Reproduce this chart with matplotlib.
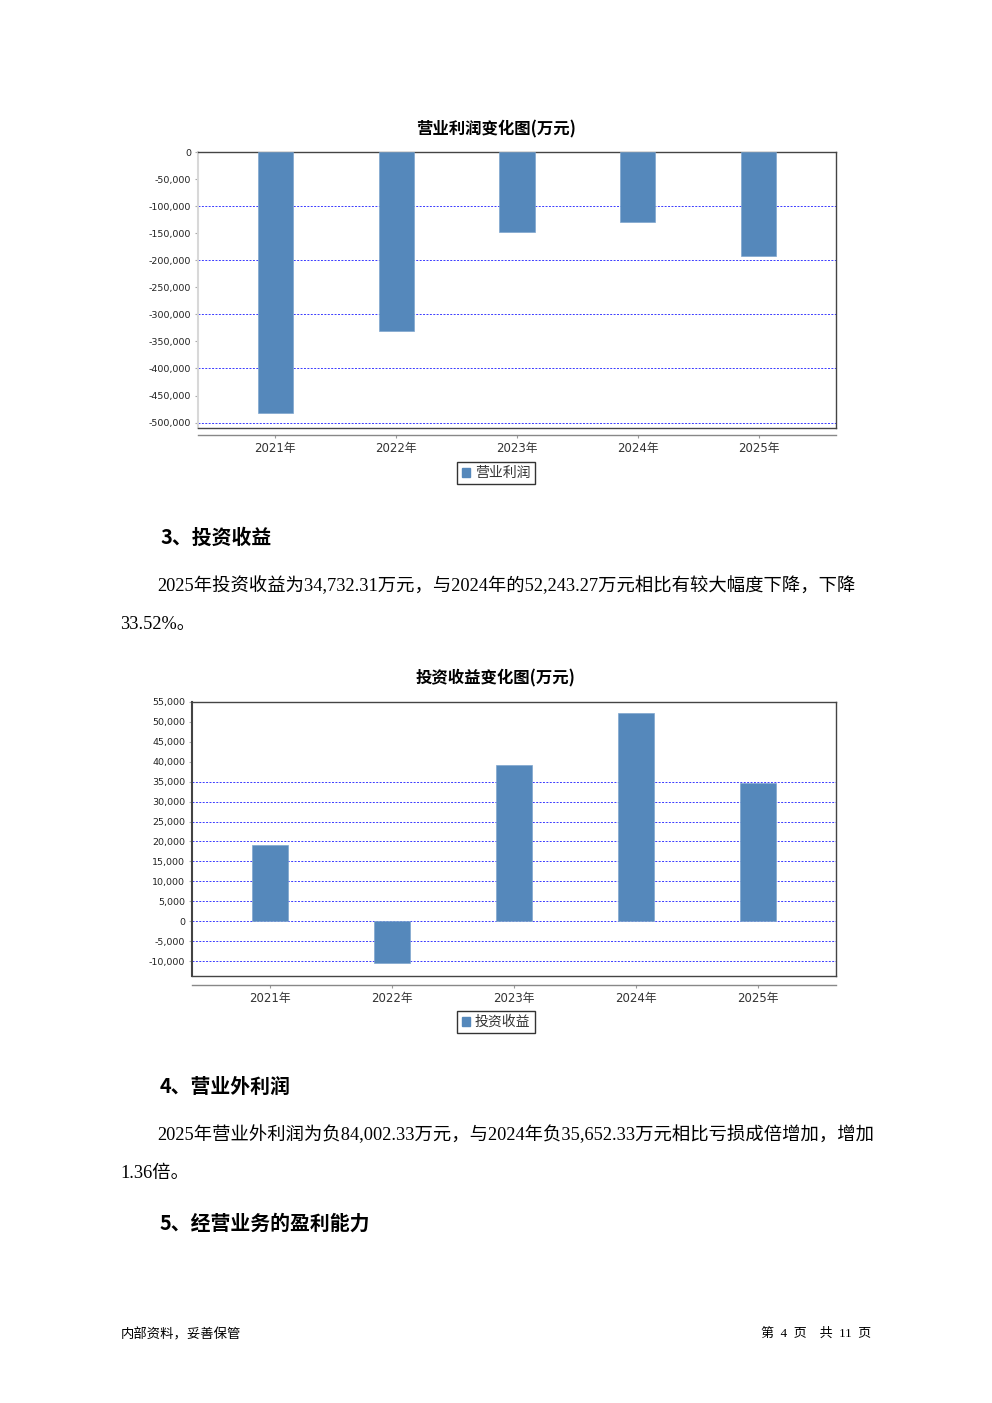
import matplotlib
matplotlib.use("Agg")
import matplotlib.pyplot as plt
from matplotlib.patches import Patch
from matplotlib.ticker import FuncFormatter
import numpy as np

plt.rcParams['font.family'] = ['DejaVu Sans', 'Noto Sans CJK SC']

##############################################################################
# Data
years = ['2021年', '2022年', '2023年', '2024年', '2025年']
op_profit = [-481500, -330000, -147500, -129000, -192000]      # 营业利润
inv_income = [19000, -10500, 39300, 52243.27, 34732.31]       # 投资收益

W, H = 992, 1403
BAR = '#5588bb'
GRID = '#3a3aff'
CJK = ['Noto Sans CJK SC']
BODY = ['Liberation Serif', 'Noto Sans CJK SC']


def px_axes(fig, x0, y0, x1, y1):
    # pixel box (top-left origin) -> figure fraction axes
    return fig.add_axes([x0 / W, 1 - y1 / H, (x1 - x0) / W, (y1 - y0) / H])


def thousands(v, pos):
    return '0' if v == 0 else f'{v:,.0f}'


def bar_chart(fig, box, values, ylim, yticks, grid, title, title_y,
              legend_label, legend_y, cat_offset, left_color):
    ax = px_axes(fig, *box)
    x = np.arange(len(years))
    ax.bar(x, values, width=0.29, color=BAR, edgecolor='#7ea6cf',
           linewidth=0.5, zorder=3)
    ax.set_xlim(-0.64, len(years) - 1 + 0.64)
    ax.set_ylim(*ylim)
    ax.set_yticks(yticks)
    ax.yaxis.set_major_formatter(FuncFormatter(thousands))
    ax.tick_params(axis='y', labelsize=6.8, labelcolor='#222',
                   length=2, color='#aaa', pad=3)
    ax.tick_params(axis='x', bottom=False, labelbottom=False)
    for g in grid:
        ax.axhline(g, color=GRID, lw=0.7, ls=(0, (2, 1.5)), zorder=2)
    for s in ('top', 'right', 'bottom'):
        ax.spines[s].set_color('#444')
        ax.spines[s].set_linewidth(1.0)
    ax.spines['left'].set_color(left_color)
    ax.spines['left'].set_linewidth(1.5)

    # separate category axis under the plot, like the report tool draws it
    sec = ax.secondary_xaxis(-cat_offset)
    sec.set_xticks(x, labels=years)
    sec.spines['bottom'].set_color('#888')
    sec.spines['bottom'].set_linewidth(1.0)
    sec.tick_params(length=2, color='#999', labelsize=8.5,
                    labelcolor='#333', pad=3)

    fig.text(496 / W, 1 - title_y / H, title, ha='center', va='center',
             fontsize=11.8, fontweight='bold', family=CJK)
    fig.legend(handles=[Patch(color=BAR, label=legend_label)],
               loc='center', bbox_to_anchor=(496 / W, 1 - legend_y / H),
               frameon=True, fancybox=False, edgecolor='#333',
               framealpha=1, handlelength=0.6, handleheight=0.6,
               handletextpad=0.35, borderpad=0.3, borderaxespad=0,
               labelcolor='#333', prop={'family': CJK, 'size': 10})
    return ax


fig = plt.figure(figsize=(W / 100, H / 100), dpi=100)

bar_chart(fig, (198, 152, 836, 428), op_profit,
          (-510000, 0), np.arange(-500000, 1, 50000),
          np.arange(-500000, 1, 100000),
          '营业利润变化图(万元)', 129, '营业利润', 473, 0.026, '#d8d8d8')

bar_chart(fig, (192, 702, 836, 976), inv_income,
          (-13750, 55000), np.arange(-10000, 55001, 5000),
          np.arange(-10000, 35001, 5000),
          '投资收益变化图(万元)', 678, '投资收益', 1022, 0.033, '#444')


def put(x, y, s, size=13.2, bold=False, family=BODY, ha='left'):
    fig.text(x / W, 1 - y / H, s, ha=ha, va='center', fontsize=size,
             fontweight='bold' if bold else 'normal', family=family)


put(160, 537, '3、投资收益', size=14.3, bold=True, family=CJK)
put(157, 586, '2025年投资收益为34,732.31万元，与2024年的52,243.27万元相比有较大幅度下降，下降')
put(120, 624, '33.52%。')

put(160, 1086, '4、营业外利润', size=14.3, bold=True, family=CJK)
put(157, 1135, '2025年营业外利润为负84,002.33万元，与2024年负35,652.33万元相比亏损成倍增加，增加')
put(120, 1173, '1.36倍。')

put(160, 1223, '5、经营业务的盈利能力', size=14.3, bold=True, family=CJK)

put(121, 1334, '内部资料，妥善保管', size=9.6, family=CJK)
put(871, 1334, '第  4  页    共  11  页', size=9.4, family=BODY, ha='right')

fig.savefig('out.png', dpi=100)
